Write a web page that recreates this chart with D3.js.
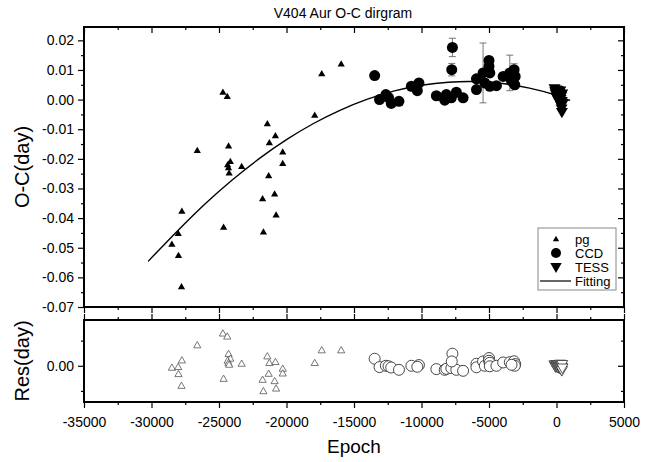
<!DOCTYPE html>
<html>
<head>
<meta charset="utf-8">
<script src="https://cdn.jsdelivr.net/npm/d3@7"></script>
<style>
  body { margin: 0; background: #fff; }
  svg { font-family: Arial, "Liberation Sans", sans-serif; }
  .tick text { font-size: 14px; fill: #000; }
  .tick line { stroke: #000; stroke-width: 1.2; }
</style>
</head>
<body>
<svg id="chart" width="653" height="462"></svg>
<script>
// photographic plate minima
const pgEpoch = [-28490, -28020, -28000, -27750, -27780, -26610, -24710, -24390, -24660, -24290,
  -24160, -24360, -24300, -24250, -23320, -21770, -21710, -21420, -21270, -21320,
  -20880, -20820, -20770, -20280, -20280, -17910, -17390, -15950];
const pgOC = [-0.0488, -0.0452, -0.0526, -0.0377, -0.0632, -0.0172, 0.0025, 0.0010, -0.0431, -0.0157,
  -0.0209, -0.0220, -0.0230, -0.0248, -0.0226, -0.0335, -0.0447, -0.0082, -0.0146, -0.0257,
  -0.0319, -0.0122, -0.0390, -0.0177, -0.0216, -0.0053, 0.0087, 0.0120];
const pgRes = [-0.0020, -0.0013, -0.0083, 0.0053, -0.0200, 0.0203, 0.0320, 0.0290, -0.0130, 0.0117,
  0.0070, 0.0050, 0.0027, 0.0010, 0.0020, -0.0140, -0.0253, 0.0093, 0.0027, -0.0080,
  -0.0153, 0.0037, -0.0227, -0.0030, -0.0077, 0.0027, 0.0153, 0.0153];

// CCD minima
const ccdEpoch = [-13470, -13110, -12640, -12440, -12240, -11670, -10750, -10190, -10310, -8900,
  -8280, -8160, -7790, -7420, -6920, -7710, -7760, -5930, -5930, -5440,
  -5310, -5000, -5000, -4940, -4940, -4450, -3950, -3460, -3140, -3060, -3090, -3330];
const ccdOC = [0.0081, 0.0000, 0.0017, 0.0007, -0.0013, -0.0006, 0.0045, 0.0056, 0.0030, 0.0013,
  -0.0002, 0.0017, 0.0006, 0.0025, 0.0006, 0.0176, 0.0101, 0.0070, 0.0034, 0.0090,
  0.0056, 0.0132, 0.0112, 0.0090, 0.0045, 0.0047, 0.0078, 0.0090, 0.0101, 0.0078, 0.0050, 0.0062];
const ccdErr = [0, 0, 0, 0, 0, 0, 0, 0, 0, 0,
  0, 0, 0, 0, 0, 0.0031, 0.0021, 0, 0, 0.0101,
  0, 0, 0, 0, 0, 0, 0, 0.0060, 0.0020, 0, 0, 0];
const ccdRes = [0.0070, -0.0013, 0.0000, -0.0005, -0.0017, -0.0040, 0.0000, 0.0007, -0.0010, -0.0033,
  -0.0040, -0.0030, -0.0023, -0.0040, -0.0050, 0.0120, 0.0043, 0.0020, -0.0015, 0.0043,
  0.0000, 0.0077, 0.0050, 0.0030, -0.0005, 0.0000, 0.0033, 0.0035, 0.0045, 0.0017, 0.0000, 0.0010];

// TESS minima
const tessEpoch = [-150, -100, -60, -20, 0, 20, 50, 80, 100, 120, 150, 180,
  200, 230, 260, 280, 300, 330, 350, 370, 390, 400, 420, 440];
const tessOC = [0.0038, 0.0028, 0.0020, 0.0034, 0.0010, 0.0025, 0.0005, 0.0018, 0.0032, 0.0000, 0.0015, -0.0005,
  0.0022, 0.0008, -0.0012, 0.0030, 0.0002, -0.0020, 0.0012, -0.0030, -0.0005, -0.0042, 0.0020, -0.0015];
const tessRes = [0.0012, 0.0000, -0.0008, 0.0015, -0.0005, 0.0010, -0.0010, 0.0003, 0.0015, -0.0015, 0.0002, -0.0018,
  0.0010, -0.0004, -0.0022, 0.0018, -0.0008, -0.0030, 0.0005, -0.0038, -0.0012, -0.0045, 0.0015, -0.0020];

// fitted curve
const fitEpoch = [-30250, -28000, -26000, -24000, -22000, -20000, -18000, -16000, -14000,
  -12000, -10000, -8000, -6000, -4000, -2000, 0, 1000];
const fitOC = [-0.0546, -0.0439, -0.0349, -0.0269, -0.0197, -0.0134, -0.0079, -0.0034, 0.0003,
  0.0031, 0.0050, 0.0060, 0.0062, 0.0056, 0.0040, 0.0016, -0.0003];

const legendItems = ["pg", "CCD", "TESS", "Fitting"];

const svg = d3.select("#chart");
const left = 84, right = 624;
const top1 = 27, bot1 = 307, top2 = 320, bot2 = 402;

const x = d3.scaleLinear().domain([-35000, 5000]).range([left, right]);
const yTop = d3.scaleLinear().domain([-0.07, 0.0245]).range([bot1, top1]);
const yRes = d3.scaleLinear().domain([-0.036, 0.0455]).range([bot2, top2]);

const xMajor = d3.range(-35000, 5001, 5000);
const xMinor = d3.range(-32500, 5000, 5000);
const yMajor = d3.range(-7, 3).map(d => d / 100);
const yMinor = d3.range(-7, 2).map(d => (d + 0.5) / 100);
const rMajor = [0];
const rMinor = [-0.025, 0.025];

// plain hyphen instead of d3's unicode minus
const hyph = f => d => f(d).replace("\u2212", "-");
const fmtY = hyph(d3.format(".2f"));
const fmtX = hyph(d3.format("d"));

// helper to draw one axis with major + minor ticks
function ticks(axisFn, scale, major, minor, tx, ty, labels, fmt) {
  const g = svg.append("g").attr("transform", `translate(${tx},${ty})`);
  g.append("g").call(axisFn(scale).tickValues(minor).tickSize(3).tickFormat(""))
    .select(".domain").remove();
  const gm = g.append("g").call(axisFn(scale).tickValues(major).tickSize(6).tickPadding(4)
    .tickFormat(labels ? fmt : ""));
  gm.select(".domain").remove();
  return gm;
}

// top panel ticks
ticks(d3.axisLeft, yTop, yMajor, yMinor, left, 0, true, fmtY);
ticks(d3.axisLeft, yTop, yMajor, yMinor, right, 0, false);      // inward on right
ticks(d3.axisBottom, x, xMajor, xMinor, 0, top1, false);        // inward on top
ticks(d3.axisBottom, x, xMajor, xMinor, 0, bot1, false);        // outward below
// residual panel ticks
ticks(d3.axisLeft, yRes, rMajor, rMinor, left, 0, true, fmtY);
ticks(d3.axisLeft, yRes, rMajor, rMinor, right, 0, false);
ticks(d3.axisTop, x, xMajor, xMinor, 0, top2, false);
const xb = ticks(d3.axisBottom, x, xMajor, xMinor, 0, bot2, true, fmtX);
xb.selectAll("text").attr("dy", "1.05em");

// frames
svg.append("rect").attr("x", left).attr("y", top1).attr("width", right - left).attr("height", bot1 - top1)
  .attr("fill", "none").attr("stroke", "#000").attr("stroke-width", 2);
svg.append("rect").attr("x", left).attr("y", top2).attr("width", right - left).attr("height", bot2 - top2)
  .attr("fill", "none").attr("stroke", "#000").attr("stroke-width", 2);

// marker paths
const triUp = h => `M0,${-h}L${h * 0.95},${h * 0.65}L${-h * 0.95},${h * 0.65}Z`;
const triDown = h => `M0,${h}L${h * 0.95},${-h * 0.65}L${-h * 0.95},${-h * 0.65}Z`;

const plot = svg.append("g");

// fit line
plot.append("path")
  .datum(fitEpoch.map((e, i) => [e, fitOC[i]]))
  .attr("fill", "none").attr("stroke", "#000").attr("stroke-width", 1.4)
  .attr("d", d3.line().x(d => x(d[0])).y(d => yTop(d[1])).curve(d3.curveBasis));

// error bars
const errs = ccdEpoch.map((e, i) => ({ e, v: ccdOC[i], err: ccdErr[i] })).filter(d => d.err > 0);
const eb = plot.selectAll(".eb").data(errs).join("g").attr("class", "eb")
  .attr("stroke", "#555").attr("stroke-width", 0.8);
eb.append("line").attr("x1", d => x(d.e)).attr("x2", d => x(d.e))
  .attr("y1", d => yTop(d.v - d.err)).attr("y2", d => yTop(d.v + d.err));
eb.append("line").attr("x1", d => x(d.e) - 3.5).attr("x2", d => x(d.e) + 3.5)
  .attr("y1", d => yTop(d.v - d.err)).attr("y2", d => yTop(d.v - d.err));
eb.append("line").attr("x1", d => x(d.e) - 3.5).attr("x2", d => x(d.e) + 3.5)
  .attr("y1", d => yTop(d.v + d.err)).attr("y2", d => yTop(d.v + d.err));

// top panel points
plot.selectAll(".pg").data(pgEpoch).join("path").attr("class", "pg")
  .attr("transform", (e, i) => `translate(${x(e)},${yTop(pgOC[i])})`)
  .attr("d", triUp(3.8)).attr("fill", "#000");
plot.selectAll(".ccd").data(ccdEpoch).join("circle").attr("class", "ccd")
  .attr("cx", e => x(e)).attr("cy", (e, i) => yTop(ccdOC[i])).attr("r", 5.5).attr("fill", "#000");
plot.selectAll(".tess").data(tessEpoch).join("path").attr("class", "tess")
  .attr("transform", (e, i) => `translate(${x(e)},${yTop(tessOC[i])})`)
  .attr("d", triDown(6.3)).attr("fill", "#000");

// residual points
plot.selectAll(".pgr").data(pgEpoch).join("path").attr("class", "pgr")
  .attr("transform", (e, i) => `translate(${x(e)},${yRes(pgRes[i])})`)
  .attr("d", triUp(3.8)).attr("fill", "#fff").attr("stroke", "#555").attr("stroke-width", 0.8);
plot.selectAll(".ccdr").data(ccdEpoch).join("circle").attr("class", "ccdr")
  .attr("cx", e => x(e)).attr("cy", (e, i) => yRes(ccdRes[i])).attr("r", 5.5)
  .attr("fill", "#fff").attr("stroke", "#333").attr("stroke-width", 0.9);
plot.selectAll(".tessr").data(tessEpoch).join("path").attr("class", "tessr")
  .attr("transform", (e, i) => `translate(${x(e)},${yRes(tessRes[i])})`)
  .attr("d", triDown(5.8)).attr("fill", "#fff").attr("stroke", "#444").attr("stroke-width", 0.9);

// legend
const lg = svg.append("g").attr("transform", "translate(538,228)");
lg.append("rect").attr("width", 78).attr("height", 62).attr("fill", "#fff")
  .attr("stroke", "#888").attr("stroke-width", 1);
legendItems.forEach((name, i) => {
  const cy = 11 + i * 14;
  const g = lg.append("g").attr("transform", `translate(18,${cy})`);
  if (name === "pg") g.append("path").attr("d", triUp(3.3)).attr("fill", "#000");
  if (name === "CCD") g.append("circle").attr("r", 5).attr("fill", "#000");
  if (name === "TESS") g.append("path").attr("d", triDown(6)).attr("fill", "#000");
  if (name === "Fitting") g.append("line").attr("x1", -16).attr("x2", 15).attr("stroke", "#000").attr("stroke-width", 1.2);
  lg.append("text").attr("x", 37).attr("y", cy).attr("dy", "0.35em")
    .attr("font-size", 13).text(name);
});

// titles
svg.append("text").attr("x", 343).attr("y", 18).attr("text-anchor", "middle")
  .attr("font-size", 14).text("V404 Aur O-C dirgram");
svg.append("text").attr("transform", `translate(29,${(top1 + bot1) / 2}) rotate(-90)`)
  .attr("text-anchor", "middle").attr("font-size", 20).text("O-C(day)");
svg.append("text").attr("transform", `translate(29,${(top2 + bot2) / 2}) rotate(-90)`)
  .attr("text-anchor", "middle").attr("font-size", 20).text("Res(day)");
svg.append("text").attr("x", (left + right) / 2).attr("y", 453).attr("text-anchor", "middle")
  .attr("font-size", 19).text("Epoch");
</script>
</body>
</html>
